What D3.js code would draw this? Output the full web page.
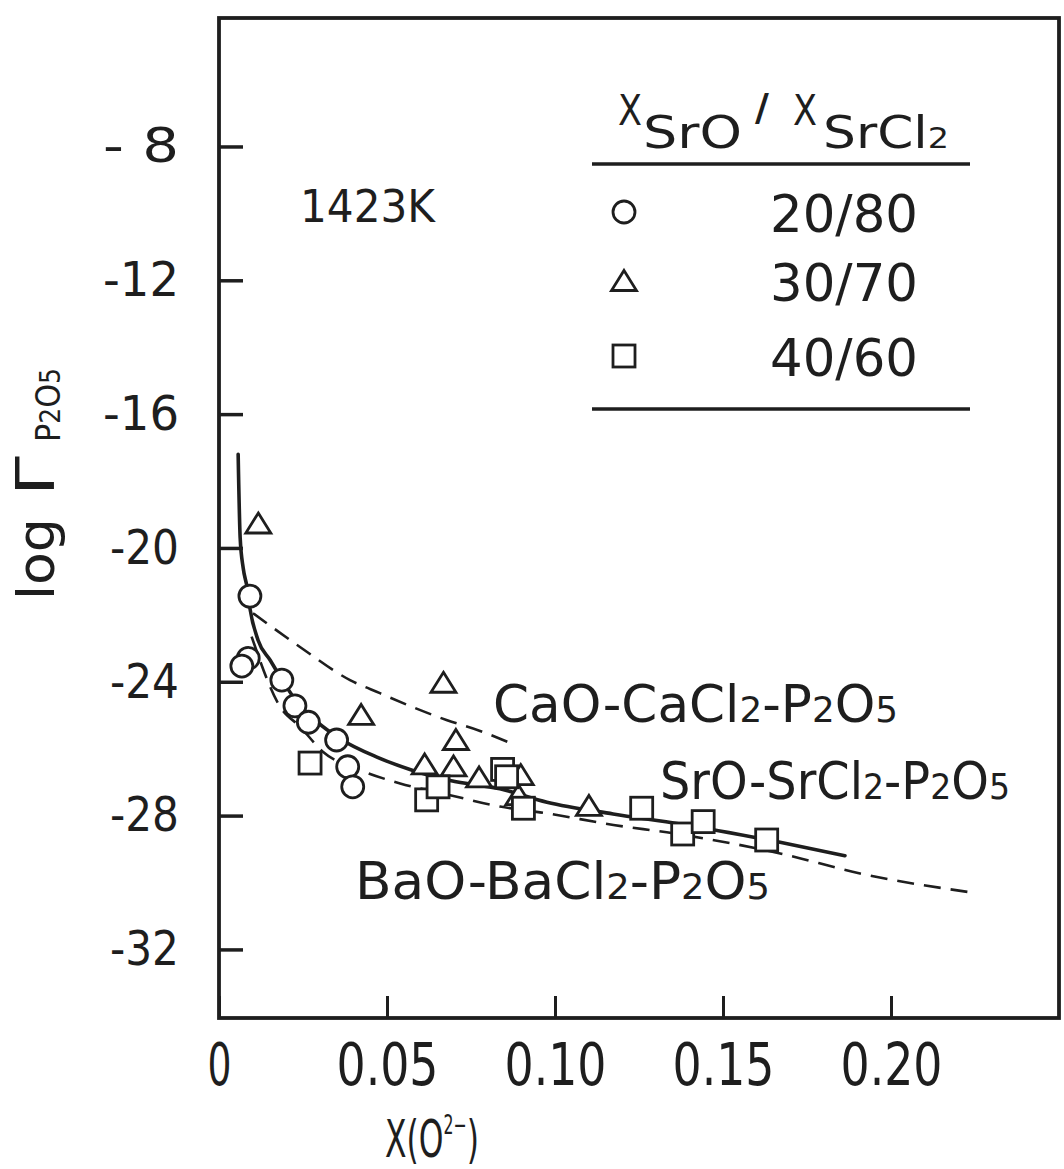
<!DOCTYPE html>
<html>
<head>
<meta charset="utf-8">
<script src="https://cdn.jsdelivr.net/npm/d3@7"></script>
<style>
  html, body { margin: 0; padding: 0; background: #ffffff; }
  svg { display: block; }
  text { font-family: "DejaVu Sans", "Liberation Sans", sans-serif; fill: #1e1e1e; }
</style>
</head>
<body>
<svg id="chart" width="1064" height="1169"></svg>
<script>
// ---- axis ticks ----
const xTicks = [0, 0.05, 0.10, 0.15, 0.20];
const xTickLabels = ["0", "0.05", "0.10", "0.15", "0.20"];
const yTicks = [-8, -12, -16, -20, -24, -28, -32];
const yTickLabels = ["- 8", "-12", "-16", "-20", "-24", "-28", "-32"];

// ---- series: X_SrO / X_SrCl2 ----
const ratioLabels = ["20/80", "30/70", "40/60"];
const ratioSymbols = ["circle", "triangle", "square"];

// 20/80 (circles)
const x2080 = [0.0092, 0.0087, 0.0068, 0.0187, 0.0226, 0.0266, 0.0350, 0.0383, 0.0398];
const y2080 = [-21.44, -23.30, -23.53, -23.95, -24.72, -25.21, -25.74, -26.54, -27.14];

// 30/70 (triangles)
const x3070 = [0.0117, 0.0423, 0.0668, 0.0705, 0.0612, 0.0698, 0.0774, 0.0898, 0.0891, 0.1101];
const y3070 = [-19.27, -24.99, -24.03, -25.74, -26.47, -26.53, -26.86, -26.79, -27.39, -27.71];

// 40/60 (squares)
const x4060 = [0.0271, 0.0618, 0.0652, 0.0844, 0.0856, 0.0906, 0.1258, 0.1380, 0.1441, 0.1630];
const y4060 = [-26.43, -27.53, -27.14, -26.62, -26.84, -27.78, -27.78, -28.55, -28.18, -28.73];

// ---- reference curves ----
// SrO-SrCl2-P2O5 (solid)
const srCurveX = [0.0057, 0.0063, 0.0072, 0.0084, 0.0092, 0.0116, 0.0152, 0.0188, 0.0232, 0.0292,
                  0.0360, 0.0470, 0.0577, 0.0688, 0.0836, 0.0976, 0.1173, 0.1372, 0.1670, 0.1863];
const srCurveY = [-17.2, -19.7, -20.6, -21.2, -21.8, -22.75, -23.35, -23.95, -24.6, -25.2,
                  -25.7, -26.25, -26.65, -26.95, -27.2, -27.6, -27.95, -28.25, -28.8, -29.2];
// CaO-CaCl2-P2O5 (dashed, upper)
const caCurveX = [0.0101, 0.0241, 0.0390, 0.0479, 0.0577, 0.0679, 0.0777, 0.0860];
const caCurveY = [-21.95, -22.96, -23.95, -24.34, -24.76, -25.15, -25.47, -25.80];
// BaO-BaCl2-P2O5 (dashed, lower)
const baCurveX = [0.0097, 0.0182, 0.0241, 0.0310, 0.0420, 0.0539, 0.0688, 0.0836, 0.0975,
                  0.1174, 0.1352, 0.1670, 0.1908, 0.2255];
const baCurveY = [-22.65, -24.75, -25.34, -26.10, -26.64, -27.04, -27.39, -27.73, -27.93,
                  -28.28, -28.53, -29.13, -29.73, -30.32];

const ink = "#1e1e1e";
const svg = d3.select("#chart");

const x = d3.scaleLinear().domain([0, 0.25]).range([219, 1059]);
const y = d3.scaleLinear().domain([-34.05, -4.16]).range([1018, 18]);

// ---- frame ----
svg.append("rect")
  .attr("x", x(0)).attr("y", y(-4.16))
  .attr("width", x(0.25) - x(0)).attr("height", y(-34.05) - y(-4.16))
  .attr("fill", "none").attr("stroke", ink).attr("stroke-width", 3.8);

// ---- y axis (inward ticks) ----
const yAxis = svg.append("g")
  .attr("transform", `translate(${x(0)},0)`)
  .call(d3.axisLeft(y).tickValues(yTicks).tickSize(-24).tickPadding(40)
        .tickFormat((d, i) => yTickLabels[i]));
yAxis.select(".domain").remove();
yAxis.selectAll(".tick line").attr("stroke", ink).attr("stroke-width", 3.5);
yAxis.selectAll(".tick text")
  .attr("font-size", 48).attr("fill", ink)
  .style("font-family", "'DejaVu Sans', sans-serif")
  .attr("textLength", (d, i) => (i < 3 ? 76 : 69))
  .attr("lengthAdjust", "spacingAndGlyphs");

// ---- x axis (inward ticks) ----
const xAxis = svg.append("g")
  .attr("transform", `translate(0,${y(-34.05)})`)
  .call(d3.axisBottom(x).tickValues(xTicks).tickSize(-22).tickPadding(26)
        .tickFormat((d, i) => xTickLabels[i]));
xAxis.select(".domain").remove();
xAxis.selectAll(".tick line").attr("stroke", ink).attr("stroke-width", 3);
xAxis.selectAll(".tick text")
  .attr("font-size", 58).attr("fill", ink)
  .style("font-family", "'DejaVu Sans', sans-serif")
  .attr("textLength", (d, i) => (i === 0 ? 24 : 102))
  .attr("lengthAdjust", "spacingAndGlyphs");

// ---- axis titles ----
svg.append("text")
  .attr("x", 385).attr("y", 1157)
  .attr("font-size", 52)
  .attr("textLength", 94).attr("lengthAdjust", "spacingAndGlyphs")
  .call(t => {
    t.append("tspan").text("X(O");
    t.append("tspan").attr("font-size", 26).attr("dy", -23).text("2−");
    t.append("tspan").attr("dy", 23).text(")");
  });

const yTitle = svg.append("g").attr("transform", "translate(54,600) rotate(-90)");
yTitle.append("text").attr("x", 0).attr("y", 0).attr("font-size", 52)
  .attr("textLength", 82).attr("lengthAdjust", "spacingAndGlyphs").text("log");
yTitle.append("text").attr("x", 104).attr("y", 0).attr("font-size", 54)
  .attr("textLength", 40).attr("lengthAdjust", "spacingAndGlyphs").text("Γ");
yTitle.append("text").attr("x", 158).attr("y", 6).attr("font-size", 34)
  .attr("textLength", 74).attr("lengthAdjust", "spacingAndGlyphs")
  .call(t => {
    t.append("tspan").text("P");
    t.append("tspan").attr("font-size", 28).text("2");
    t.append("tspan").text("O");
    t.append("tspan").attr("font-size", 28).text("5");
  });

// ---- curves ----
const line = d3.line().x(d => x(d[0])).y(d => y(d[1])).curve(d3.curveMonotoneX);
const zip = (xs, ys) => xs.map((v, i) => [v, ys[i]]);

svg.append("path").datum(zip(caCurveX, caCurveY))
  .attr("d", line).attr("fill", "none").attr("stroke", ink)
  .attr("stroke-width", 2.6).attr("stroke-dasharray", "17,10");
svg.append("path").datum(zip(baCurveX, baCurveY))
  .attr("d", line).attr("fill", "none").attr("stroke", ink)
  .attr("stroke-width", 2.6).attr("stroke-dasharray", "17,10");
svg.append("path").datum(zip(srCurveX, srCurveY))
  .attr("d", line).attr("fill", "none").attr("stroke", ink)
  .attr("stroke-width", 3.6).attr("stroke-linecap", "round");

// ---- markers ----
function drawMarker(g, kind) {
  const common = s => s.attr("fill", "#ffffff").attr("stroke", ink).attr("stroke-width", 2.8);
  if (kind === "circle") {
    g.append("circle").attr("r", 11).call(common);
  } else if (kind === "triangle") {
    g.append("path").attr("d", "M0,-10.5L12.5,9.5L-12.5,9.5Z").call(common);
  } else {
    g.append("rect").attr("x", -11).attr("y", -11).attr("width", 22).attr("height", 22).call(common);
  }
}

const seriesSets = [
  { xs: x2080, ys: y2080, kind: ratioSymbols[0] },
  { xs: x3070, ys: y3070, kind: ratioSymbols[1] },
  { xs: x4060, ys: y4060, kind: ratioSymbols[2] }
];
seriesSets.forEach(s => {
  svg.append("g").selectAll("g")
    .data(zip(s.xs, s.ys))
    .join("g")
    .attr("transform", d => `translate(${x(d[0])},${y(d[1])})`)
    .each(function () { drawMarker(d3.select(this), s.kind); });
});

// ---- curve labels ----
function chemLabel(px, py, len, parts) {
  const t = svg.append("text").attr("x", px).attr("y", py).attr("font-size", 52)
    .attr("textLength", len).attr("lengthAdjust", "spacingAndGlyphs");
  parts.forEach(p => {
    const s = t.append("tspan").text(p[0]);
    if (p[1]) s.attr("font-size", 36);
  });
}
chemLabel(493, 722, 405, [["CaO-CaCl"], ["2", 1], ["-P"], ["2", 1], ["O"], ["5", 1]]);
chemLabel(660, 799, 350, [["SrO-SrCl"], ["2", 1], ["-P"], ["2", 1], ["O"], ["5", 1]]);
chemLabel(355, 899, 415, [["BaO-BaCl"], ["2", 1], ["-P"], ["2", 1], ["O"], ["5", 1]]);

// temperature
svg.append("text").attr("x", 300).attr("y", 222).attr("font-size", 44)
  .attr("textLength", 135).attr("lengthAdjust", "spacingAndGlyphs").text("1423K");

// ---- legend ----
const legend = svg.append("g");
// header: X_SrO / X_SrCl2
legend.append("text").attr("x", 618).attr("y", 125).attr("font-size", 42)
  .attr("textLength", 24).attr("lengthAdjust", "spacingAndGlyphs").text("X");
legend.append("text").attr("x", 643).attr("y", 148).attr("font-size", 45)
  .attr("textLength", 99).attr("lengthAdjust", "spacingAndGlyphs").text("SrO");
legend.append("text").attr("x", 755).attr("y", 120).attr("font-size", 38)
  .attr("font-weight", "bold").text("/");
legend.append("text").attr("x", 793).attr("y", 125).attr("font-size", 42)
  .attr("textLength", 24).attr("lengthAdjust", "spacingAndGlyphs").text("X");
legend.append("text").attr("x", 823).attr("y", 148).attr("font-size", 45)
  .attr("textLength", 126).attr("lengthAdjust", "spacingAndGlyphs")
  .call(t => {
    t.append("tspan").text("SrCl");
    t.append("tspan").attr("font-size", 29).text("2");
  });

legend.append("line").attr("x1", 592).attr("x2", 970).attr("y1", 164).attr("y2", 164)
  .attr("stroke", ink).attr("stroke-width", 3.5);
legend.append("line").attr("x1", 592).attr("x2", 970).attr("y1", 409).attr("y2", 409)
  .attr("stroke", ink).attr("stroke-width", 3.5);

const rowY = [212, 281, 356];
ratioLabels.forEach((lab, i) => {
  const g = legend.append("g").attr("transform", `translate(624,${rowY[i]})`);
  drawMarker(g, ratioSymbols[i]);
  legend.append("text").attr("x", 918).attr("y", rowY[i] + 20)
    .attr("text-anchor", "end").attr("font-size", 51)
    .attr("textLength", 148).attr("lengthAdjust", "spacingAndGlyphs").text(lab);
});
</script>
</body>
</html>
